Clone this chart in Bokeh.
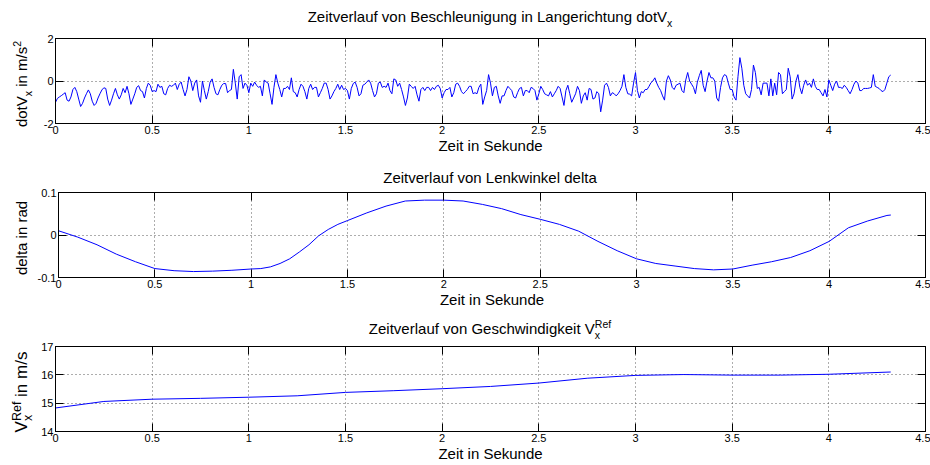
from bokeh.plotting import figure
from bokeh.layouts import column, row
from bokeh.models import LinearAxis, FixedTicker, Range1d, Div, CustomLabelingPolicy
from bokeh.embed import file_html
from bokeh.resources import INLINE

# ---------------- data ----------------
accel = [
    -1.0, -0.82, -0.75, -0.69, -0.62, -0.55, -0.9, -0.95, -0.75, -0.4,
    -0.3, -0.5, -0.85, -1.2, -1.05, -0.8, -0.6, -0.42, -0.6, -0.95,
    -1.15, -1.05, -0.8, -0.6, -0.42, -0.32, -0.35, -0.85, -1.15, -0.9,
    -0.6, -0.35, -0.65, -0.85, -0.65, -0.35, -0.55, -0.25, -0.6, -1.1,
    -0.85, -0.6, -0.3, -0.22, -0.45, -0.5, -0.8, -0.35, -0.1, -0.2,
    -0.5, -0.45, -0.5, -0.15, -0.3, -0.25, -0.6, -0.65, -0.35, -0.2,
    -0.25, -0.2, -0.1, -0.4, -0.15, -0.05, -0.4, -0.7, -0.4, 0.2,
    0.0, -0.45, -0.1, 0.05, -0.7, -1.0,
    0.0, -0.45, -0.85, -0.5, -0.05, 0.1, -0.3, -0.6, -0.65, -0.4,
    -0.2, -0.12, -0.12, -0.55, -0.45, -0.4, 0.55, -0.1, -0.85, 0.2,
    0.3, -0.35, -0.1, -0.2, -0.55, -0.1, -0.25, -0.05, -0.2, -0.3,
    -0.25, -0.7, 0.05, -0.05, -0.1, -0.6, -1.1, -0.3, 0.3, -0.1,
    -0.4, -0.75, -0.35, -0.35, -0.25, -0.4, 0.15, -0.5, -0.55, -0.75,
    -0.4, -0.15, -0.25, -0.5, -0.85, -0.35, -0.15, -0.4, -0.3, -0.3,
    -0.75, -0.55, -0.35, -0.1, -0.1, -0.4, -0.85, -0.7, -0.5, -0.35,
    -0.15, -0.4, -0.2, -0.4, -0.35,
    -0.45, -0.85, -0.35, -0.12, -0.05, -0.3, -0.7, -0.6, -0.2, -0.15,
    -0.05, 0.05, -0.1, -0.45, -0.75, -0.6, -0.1, -0.05, -0.3, -0.25,
    -0.3, -0.1, -0.45, -0.6, 0.1, 0.05, -0.25, -0.1, -0.4, -0.75,
    -1.15, -0.8, -0.15, -0.25, -0.35, -0.25, -0.65, -0.95, -0.4, -0.3,
    -0.45, -0.3, -0.3, -0.45, -0.3, -0.4, -0.25, -0.2, -0.35, -0.8,
    -0.55, -0.4, -0.4, -0.3, -0.75, -0.55, -0.15, -0.1, -0.25, -0.5,
    -0.6, -0.5, -0.4, -0.25, -0.25, -0.6, -0.55, -0.6, -0.3, -0.15,
    -1.1, -0.75, -0.45, 0.3, -0.1,
    -0.7, -0.3, -0.25, -0.7, -1.05, -0.7, -0.7, -0.45, -0.25, -0.35,
    -0.45, -0.75, -0.8, -0.55, -0.35, -0.3, -0.7, -0.45, -0.45, -0.55,
    -0.3, -0.35, -0.45, -0.9, -0.6, -0.25, -0.4, -0.6, -0.65, -0.7,
    -0.5, -0.75, -0.6, -0.45, -0.25, -0.35, -0.75, -1.15, -0.45, -0.2,
    -0.6, -1.0, -0.8, -0.6, -0.25, -0.45, -1.05, -0.7, -0.55, -0.9,
    -0.35, -0.4, -0.85, -0.8, -0.5, -0.6, -1.45, -0.9, -0.2, -0.1,
    -0.3, -0.7, -0.55, -0.6, -0.7, -0.6, -0.45, -0.25, 0.3, -0.3,
    -0.6, -0.62, -0.7, -0.1, 0.4,
    -0.45, -0.8, -0.5, -0.55, -0.4, -0.4, -0.25, -0.08, 0.0, 0.15,
    -0.1, -0.3, -0.45, -0.7, -0.9, 0.0, 0.25, 0.05, -0.3, -0.4,
    -0.2, -0.15, -0.1, -0.45, -0.55, 0.05, 0.4, 0.0, -0.15, -0.3,
    -0.6, -0.05, 0.25, 0.5, -0.2, -0.5, 0.0, 0.4, 0.15, 0.15,
    0.0, -0.8, -0.95, -0.3, 0.15, 0.3, 0.25, -0.1, -0.4, -0.4,
    -0.75, -0.9, 0.2, 1.1, 0.6, -0.2, -0.6, -0.7, -0.8, -0.4,
    0.75, 0.4, -0.35, -0.3, -0.65, -0.1, -0.1, -0.1, -0.7, 0.1,
    -0.7, -0.1, -0.65, 0.4, 0.3,
    -0.6, -0.5, -0.4, 0.6, 0.2, -0.85, -0.6, 0.0, 0.3, -0.3,
    -0.6, -0.2, 0.05, -0.2, -0.1, -0.3, 0.1, -0.25, -0.4, -0.4,
    -0.55, -0.7, -0.4, -0.75, 0.05, -0.2, -0.45, -0.15, 0.0, -0.3,
    -0.3, -0.35, -0.2, -0.3, -0.45, -0.6, -0.4, -0.15, 0.0, -0.1,
    -0.45, -0.45, -0.35, -0.35, -0.35, -0.33, -0.3, 0.3, -0.25, -0.3,
    -0.35, -0.45, -0.5, -0.4, -0.1, 0.2, 0.28,
]
accel_dt = 0.01
accel_t = [round(i * accel_dt, 2) for i in range(len(accel))]

delta_t = [0, 0.1, 0.2, 0.3, 0.4, 0.5, 0.6, 0.7, 0.8, 0.9, 1.0, 1.05, 1.1, 1.15,
           1.2, 1.25, 1.3, 1.35, 1.4, 1.45, 1.5, 1.6, 1.7, 1.8, 1.9, 2.0, 2.1,
           2.2, 2.3, 2.4, 2.5, 2.6, 2.7, 2.8, 2.9, 3.0, 3.1, 3.2, 3.3, 3.4, 3.5,
           3.6, 3.7, 3.8, 3.9, 4.0, 4.1, 4.2, 4.3, 4.32]
delta = [0.010, -0.005, -0.023, -0.045, -0.063, -0.079, -0.084, -0.086, -0.085,
         -0.083, -0.080, -0.079, -0.075, -0.067, -0.056, -0.040, -0.023, -0.002,
         0.013, 0.025, 0.034, 0.052, 0.068, 0.080, 0.082, 0.082, 0.080, 0.072,
         0.062, 0.048, 0.037, 0.025, 0.009, -0.015, -0.037, -0.056, -0.067,
         -0.073, -0.079, -0.082, -0.080, -0.071, -0.063, -0.053, -0.037, -0.015,
         0.017, 0.033, 0.046, 0.047]

speed_t = [0, 0.25, 0.5, 0.75, 1.0, 1.25, 1.5, 1.75, 2.0, 2.25, 2.5, 2.75, 3.0,
           3.25, 3.5, 3.75, 4.0, 4.32]
speed = [14.83, 15.06, 15.14, 15.17, 15.21, 15.26, 15.38, 15.44, 15.51, 15.59,
         15.71, 15.88, 15.98, 16.01, 15.99, 15.99, 16.02, 16.10]

x_ticks = [0, 0.5, 1, 1.5, 2, 2.5, 3, 3.5, 4, 4.5]
x_tick_labels = ["0", "0.5", "1", "1.5", "2", "2.5", "3", "3.5", "4", "4.5"]
acc_ticks = [-2, 0, 2]
acc_tick_labels = ["-2", "0", "2"]
delta_ticks = [-0.1, 0, 0.1]
delta_tick_labels = ["-0.1", "0", "0.1"]
speed_ticks = [14, 15, 16, 17]
speed_tick_labels = ["14", "15", "16", "17"]

xlabel = "Zeit in Sekunde"

# ---------------- layout helpers ----------------
FONT = "Liberation Sans"
FIG_H = 124          # 6 top + 86 frame + 32 bottom
YL_W = 34            # width of the y-label column
TOTAL_W = 930


def no_labels():
    return CustomLabelingPolicy(code="for (const i of indices) indices.unset(i); return indices")


def sub(t, size=10.5, zero=False):
    extra = "display:inline-block;width:0;" if zero else ""
    return (f'<span style="{extra}font-size:{size}px;position:relative;top:5px;">{t}</span>')


def sup(t, size=10.5):
    return f'<span style="font-size:{size}px;position:relative;top:-6px;">{t}</span>'


def title_div(height, top, html):
    inner = (f'<div style="position:relative;width:{TOTAL_W}px;height:{height}px;">'
             f'<div style="position:absolute;left:490px;top:{top}px;transform:translateX(-50%);'
             f'white-space:nowrap;font-family:\'{FONT}\';font-size:15px;line-height:1;color:black;">'
             f'{html}</div></div>')
    return Div(text=inner, width=TOTAL_W, height=height, margin=0)


def ylabel_div(html, size=15, center=52):
    inner = (f'<div style="position:relative;width:{YL_W}px;height:{FIG_H}px;">'
             f'<div style="position:absolute;left:21px;top:{center}px;'
             f'transform:translate(-50%,-50%) rotate(-90deg);white-space:nowrap;'
             f'font-family:\'{FONT}\';font-size:{size}px;line-height:1;color:black;">'
             f'{html}</div></div>')
    return Div(text=inner, width=YL_W, height=FIG_H, margin=0)


def make_fig(ylo, yhi, yticks, ylabels):
    p = figure(width=TOTAL_W - YL_W, height=FIG_H, x_range=Range1d(0, 4.5),
               y_range=Range1d(ylo, yhi), output_backend="svg", toolbar_location=None,
               min_border_left=55 - YL_W, min_border_right=5, min_border_top=6,
               min_border_bottom=32)
    p.title.text = ""
    p.title.standoff = 0
    p.outline_line_color = "black"
    p.background_fill_color = "white"
    p.border_fill_color = "white"
    p.xaxis.ticker = FixedTicker(ticks=x_ticks)
    p.xaxis.major_label_overrides = dict(zip(x_ticks, x_tick_labels))
    p.yaxis.ticker = FixedTicker(ticks=yticks)
    p.yaxis.major_label_overrides = dict(zip(yticks, ylabels))
    for ax in (p.xaxis[0], p.yaxis[0]):
        ax.major_tick_in = 8
        ax.major_tick_out = 0
        ax.minor_tick_line_color = None
        ax.major_tick_line_color = "black"
        ax.axis_line_color = "black"
        ax.major_label_text_font = FONT
        ax.major_label_text_font_size = "11px"
        ax.major_label_text_color = "black"
    p.xaxis.major_label_standoff = 2
    p.yaxis.major_label_standoff = 2
    p.xaxis.axis_label = xlabel
    p.xaxis.axis_label_text_font = FONT
    p.xaxis.axis_label_text_font_size = "15px"
    p.xaxis.axis_label_text_font_style = "normal"
    p.xaxis.axis_label_text_color = "black"
    p.xaxis.axis_label_standoff = 0
    # frame ticks on top and right (MATLAB box style), without tick labels
    top_ax = LinearAxis(ticker=FixedTicker(ticks=x_ticks), major_label_policy=no_labels(),
                        major_label_text_font_size="0px",
                        major_label_standoff=0, major_tick_in=8, major_tick_out=0,
                        minor_tick_line_color=None, axis_line_color="black")
    right_ax = LinearAxis(ticker=FixedTicker(ticks=yticks), major_label_policy=no_labels(),
                          major_label_text_font_size="0px",
                          major_label_standoff=0, major_tick_in=8, major_tick_out=0,
                          minor_tick_line_color=None, axis_line_color="black")
    p.add_layout(top_ax, "above")
    p.add_layout(right_ax, "right")
    p.xgrid.ticker = FixedTicker(ticks=x_ticks)
    p.ygrid.ticker = FixedTicker(ticks=yticks)
    for g in (p.xgrid[0], p.ygrid[0]):
        g.grid_line_color = "#333333"
        g.grid_line_alpha = 0.8
        g.grid_line_dash = "1 3"
        g.grid_line_width = 1
    return p


# ---------------- figure 1 ----------------
p1 = make_fig(-2, 2, acc_ticks, acc_tick_labels)
p1.line(accel_t, accel, line_color="#0000ff", line_width=1)
tdiv1 = title_div(32, 9, "Zeitverlauf von Beschleunigung in Langerichtung dotV" + sub("x"))
ydiv1 = ylabel_div("dotV" + sub("x") + " in m/s" + sup("2"))

# ---------------- figure 2 ----------------
p2 = make_fig(-0.1, 0.1, delta_ticks, delta_tick_labels)
p2.line(delta_t, delta, line_color="#0000ff", line_width=1)
tdiv2 = title_div(30, 14, "Zeitverlauf von Lenkwinkel delta")
ydiv2 = ylabel_div("delta in rad")

# ---------------- figure 3 ----------------
p3 = make_fig(14, 17, speed_ticks, speed_tick_labels)
p3.line(speed_t, speed, line_color="#0000ff", line_width=1)
tdiv3 = title_div(30, 11, "Zeitverlauf von Geschwindigkeit V" + sub("x", zero=True) + sup("Ref"))
ydiv3 = ylabel_div("V" + sub("x", 12.5, zero=True) + sup("Ref", 12.5) + " in m/s", size=17)

p = column(tdiv1, row(ydiv1, p1, spacing=0),
           tdiv2, row(ydiv2, p2, spacing=0),
           tdiv3, row(ydiv3, p3, spacing=0), spacing=0)
open("out.html", "w").write(file_html(p, INLINE))
